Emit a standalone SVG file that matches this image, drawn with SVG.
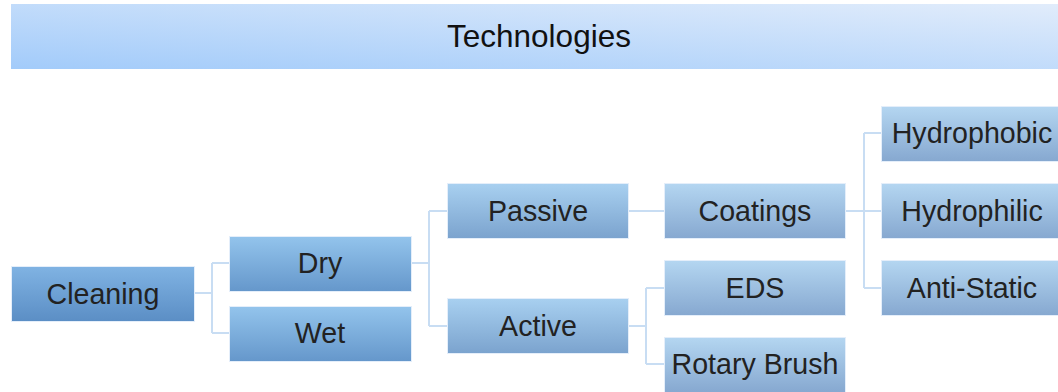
<svg xmlns="http://www.w3.org/2000/svg" width="1058" height="392" viewBox="0 0 1058 392">
<defs>
<linearGradient id="gTitle" x1="0" y1="1" x2="1" y2="0">
<stop offset="0" stop-color="#a2cbfa"/>
<stop offset="1" stop-color="#e1ecfb"/>
</linearGradient>
<linearGradient id="g1" x1="0" y1="0" x2="0" y2="1">
<stop offset="0" stop-color="#80b3e3"/>
<stop offset="1" stop-color="#5b8ec5"/>
</linearGradient>
<linearGradient id="g2" x1="0" y1="0" x2="0" y2="1">
<stop offset="0" stop-color="#93c4ec"/>
<stop offset="1" stop-color="#6597cb"/>
</linearGradient>
<linearGradient id="g3" x1="0" y1="0" x2="0" y2="1">
<stop offset="0" stop-color="#a8d0f0"/>
<stop offset="1" stop-color="#7ba3ce"/>
</linearGradient>
<linearGradient id="g4" x1="0" y1="0" x2="0" y2="1">
<stop offset="0" stop-color="#b4d6f1"/>
<stop offset="1" stop-color="#86a8d0"/>
</linearGradient>
</defs>
<style>
.box { stroke: #e4eefa; stroke-width: 1; }
.l1 { fill: url(#g1); }
.l2 { fill: url(#g2); }
.l3 { fill: url(#g3); }
.l4 { fill: url(#g4); }
.lbl { font-family: "Liberation Sans", Arial, sans-serif; font-size: 28.6px; fill: #222222; text-anchor: middle; }
.conn { fill: none; stroke: #c8ddf3; stroke-width: 2; }
</style>
<rect width="1058" height="392" fill="#ffffff"/>
<g id="title">
<rect x="11" y="4" width="1047" height="65" fill="url(#gTitle)"/>
<text x="539" y="47" style="font-family: 'Liberation Sans', Arial, sans-serif; font-size: 31.5px; fill: #111111; text-anchor: middle;">Technologies</text>
</g>
<g id="connectors">
<path class="conn" d="M194 293 H212 M212 263 V333 M212 263 H230 M212 333 H230"/>
<path class="conn" d="M411 263 H429 M429 211 V326 M429 211 H447 M429 326 H447"/>
<path class="conn" d="M628 211 H664"/>
<path class="conn" d="M628 326 H646 M646 288 V364 M646 288 H664 M646 364 H664"/>
<path class="conn" d="M845 211 H881 M864 133 V288 M864 133 H881 M864 288 H881"/>
</g>
<g id="cleaning"><rect class="box l1" x="11.5" y="266.5" width="183" height="55"/><text class="lbl" x="103" y="304">Cleaning</text></g>
<g id="dry"><rect class="box l2" x="229.5" y="236.5" width="182" height="55"/><text class="lbl" x="320" y="273">Dry</text></g>
<g id="wet"><rect class="box l2" x="229.5" y="306.5" width="182" height="55"/><text class="lbl" x="320" y="343">Wet</text></g>
<g id="passive"><rect class="box l3" x="447.5" y="183.5" width="181" height="55"/><text class="lbl" x="538" y="221">Passive</text></g>
<g id="active"><rect class="box l3" x="447.5" y="298.5" width="181" height="55"/><text class="lbl" x="538" y="336">Active</text></g>
<g id="coatings"><rect class="box l4" x="664.5" y="183.5" width="181" height="55"/><text class="lbl" x="755" y="221">Coatings</text></g>
<g id="eds"><rect class="box l4" x="664.5" y="260.5" width="181" height="55"/><text class="lbl" x="755" y="298">EDS</text></g>
<g id="rotary-brush"><rect class="box l4" x="664.5" y="337.5" width="181" height="55"/><text class="lbl" x="755" y="374">Rotary Brush</text></g>
<g id="hydrophobic"><rect class="box l4" x="881.5" y="106.5" width="181" height="55"/><text class="lbl" x="972" y="143">Hydrophobic</text></g>
<g id="hydrophilic"><rect class="box l4" x="881.5" y="183.5" width="181" height="55"/><text class="lbl" x="972" y="221">Hydrophilic</text></g>
<g id="anti-static"><rect class="box l4" x="881.5" y="260.5" width="181" height="55"/><text class="lbl" x="972" y="298">Anti-Static</text></g>
</svg>
